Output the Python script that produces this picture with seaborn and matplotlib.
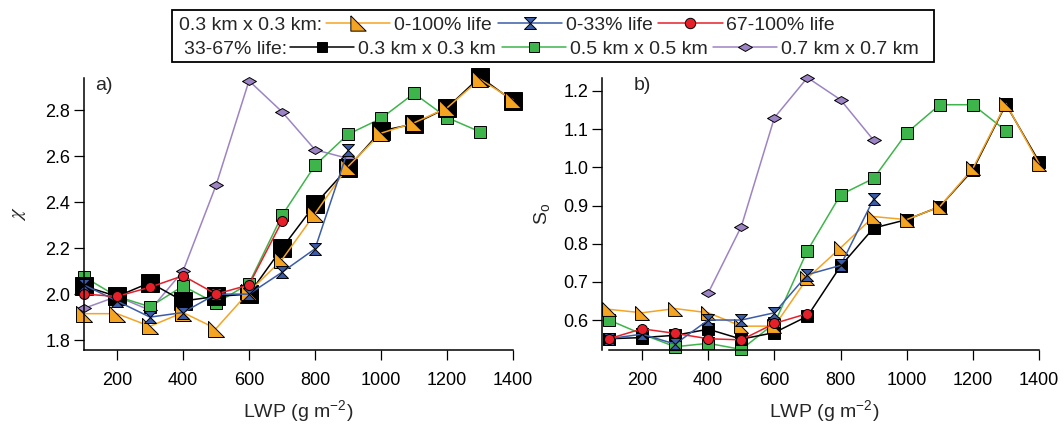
import matplotlib
matplotlib.use("Agg")
import matplotlib.pyplot as plt
from matplotlib.lines import Line2D
from matplotlib.patches import Rectangle
import seaborn as sns

# LWP bins (g m-2)
lwp = [100, 200, 300, 400, 500, 600, 700, 800, 900, 1000, 1100, 1200, 1300, 1400]

# panel a) chi
chi_all = [1.915, 1.915, 1.86, 1.92, 1.85, 2.01, 2.15, 2.35, 2.555, 2.70, 2.745, 2.81, 2.935, 2.845]
chi_early = [2.04, 1.97, 1.90, 1.92, 2.00, 2.00, 2.095, 2.197, 2.626]
chi_late = [2.00, 1.99, 2.03, 2.08, 2.00, 2.04, 2.317]
chi_03 = [2.035, 1.99, 2.05, 1.97, 1.99, 2.00, 2.20, 2.39, 2.55, 2.71, 2.74, 2.81, 2.945, 2.84]
chi_05 = [2.075, 1.99, 1.945, 2.035, 1.96, 2.046, 2.342, 2.56, 2.695, 2.764, 2.873, 2.768, 2.706]
chi_07 = [1.938, 1.99, 1.93, 2.10, 2.473, 2.928, 2.793, 2.628, 2.59]

# panel b) So
so_all = [0.628, 0.619, 0.630, 0.619, 0.584, 0.584, 0.710, 0.789, 0.871, 0.863, 0.897, 0.997, 1.167, 1.010]
so_early = [0.551, 0.563, 0.537, 0.600, 0.600, 0.619, 0.719, 0.743, 0.917]
so_late = [0.551, 0.577, 0.565, 0.551, 0.548, 0.591, 0.617]
so_03 = [0.551, 0.554, 0.560, 0.576, 0.550, 0.567, 0.610, 0.741, 0.841, 0.863, 0.897, 0.993, 1.165, 1.015]
so_05 = [0.600, 0.563, 0.530, 0.539, 0.523, 0.591, 0.782, 0.928, 0.971, 1.090, 1.164, 1.164, 1.096]
lwp_07b = [400, 500, 600, 700, 800, 900]
so_07 = [0.671, 0.845, 1.130, 1.235, 1.177, 1.071]

# marker shapes
tri = [(-1, 1), (-1, -1), (1, -1), (-1, 1)]
hourglass = [(-1, 1), (1, 1), (-1, -1), (1, -1), (-1, 1)]
diamond = [(-1, 0), (0, 0.57), (1, 0), (0, -0.57), (-1, 0)]

ORANGE = "#F5A422"
BLUE = "#3B5CA8"
RED = "#E5202A"
GREEN = "#3DB54A"
PURPLE = "#9C84C4"

sns.set_style("ticks")
plt.rcParams["font.family"] = ["Liberation Sans", "DejaVu Sans"]
plt.rcParams["mathtext.fontset"] = "stix"

fig = plt.figure(figsize=(10.64, 4.28), dpi=100)
ax_a = fig.add_axes([84 / 1064, 78 / 428, 429 / 1064, 272 / 428])
ax_b = fig.add_axes([609 / 1064, 78 / 428, 430 / 1064, 272 / 428])


def draw(ax, x, y, color, marker, size, z):
    sns.lineplot(x=x, y=y, ax=ax, color=color, marker=marker, markersize=size,
                 markerfacecolor=color, markeredgecolor="black",
                 markeredgewidth=0.7, linewidth=1.1, zorder=z, clip_on=False,
                 estimator=None, sort=False)


# panel a
draw(ax_a, lwp[:len(chi_07)], chi_07, PURPLE, diamond, 10, 2.0)
draw(ax_a, lwp[:len(chi_05)], chi_05, GREEN, "s", 8.6, 2.1)
draw(ax_a, lwp, chi_03, "black", "s", 13, 2.2)
draw(ax_a, lwp, chi_all, ORANGE, tri, 11.5, 2.3)
draw(ax_a, lwp[:len(chi_early)], chi_early, BLUE, hourglass, 8.6, 2.4)
draw(ax_a, lwp[:len(chi_late)], chi_late, RED, "o", 7.2, 2.5)

# panel b
draw(ax_b, lwp_07b, so_07, PURPLE, diamond, 10, 2.0)
draw(ax_b, lwp[:len(so_05)], so_05, GREEN, "s", 8.6, 2.1)
draw(ax_b, lwp, so_03, "black", "s", 8.6, 2.2)
draw(ax_b, lwp, so_all, ORANGE, tri, 10, 2.3)
draw(ax_b, lwp[:len(so_early)], so_early, BLUE, hourglass, 8.6, 2.4)
draw(ax_b, lwp[:len(so_late)], so_late, RED, "o", 7.2, 2.5)

ax_a.set_xlim(100, 1400)
ax_a.set_ylim(1.757, 2.94)
ax_a.set_yticks([1.8, 2.0, 2.2, 2.4, 2.6, 2.8])
ax_b.set_xlim(100, 1400)
ax_b.set_ylim(0.5215, 1.234)
ax_b.set_yticks([0.6, 0.7, 0.8, 0.9, 1.0, 1.1, 1.2])

for ax in (ax_a, ax_b):
    ax.set_xticks([200, 400, 600, 800, 1000, 1200, 1400])
    sns.despine(ax=ax)
    for side in ("left", "bottom"):
        ax.spines[side].set_linewidth(1.1)
        ax.spines[side].set_color("black")
    ax.tick_params(direction="out", length=7, width=0.9, colors="black",
                   labelsize=13)
    ax.tick_params(axis="x", pad=9)
    ax.tick_params(axis="y", pad=3)
    ax.set_xlabel("LWP (g m$^{\\mathregular{-2}}$)", fontsize=14, labelpad=7)
    ax.set_facecolor("none")

ax_b.spines["left"].set_position(("outward", 5))

ax_a.set_ylabel("$\\chi$", fontsize=15, labelpad=12)
ax_b.set_ylabel("$\\mathregular{S_o}$", fontsize=14, labelpad=8)

ax_a.text(0.026, 0.974, "a)", transform=ax_a.transAxes, fontsize=14, va="center")
ax_b.text(0.057, 0.974, "b)", transform=ax_b.transAxes, fontsize=14, va="center")

# legend box and rows
fig.patches.append(Rectangle((172 / 1064, 1 - 62 / 428), (934 - 172) / 1064, 52 / 428,
                             transform=fig.transFigure, fill=False,
                             linewidth=1.3, edgecolor="black"))


def handle(color, marker, size):
    return Line2D([], [], color=color, marker=marker, markersize=size,
                  markerfacecolor=color, markeredgecolor="black",
                  markeredgewidth=0.7, linewidth=1.1)


leg_kw = dict(loc="center left", frameon=False, fontsize=14, ncol=3,
              handlelength=3.3, handletextpad=0.2, columnspacing=0.3,
              borderpad=0, borderaxespad=0)

fig.text(322 / 1064, 1 - 25 / 428, "0.3 km x 0.3 km:", ha="right", va="center", fontsize=14)
fig.legend([handle(ORANGE, tri, 11), handle(BLUE, hourglass, 8.6), handle(RED, "o", 7.5)],
           ["0-100% life", "0-33% life", "67-100% life"],
           bbox_to_anchor=(326 / 1064, 1 - 25 / 428), **leg_kw)

fig.text(287 / 1064, 1 - 49 / 428, "33-67% life:", ha="right", va="center", fontsize=14)
fig.legend([handle("black", "s", 7.5), handle(GREEN, "s", 7.5), handle(PURPLE, diamond, 10)],
           ["0.3 km x 0.3 km", "0.5 km x 0.5 km", "0.7 km x 0.7 km"],
           bbox_to_anchor=(290 / 1064, 1 - 49 / 428), **leg_kw)

fig.savefig("out.png", dpi=100)
